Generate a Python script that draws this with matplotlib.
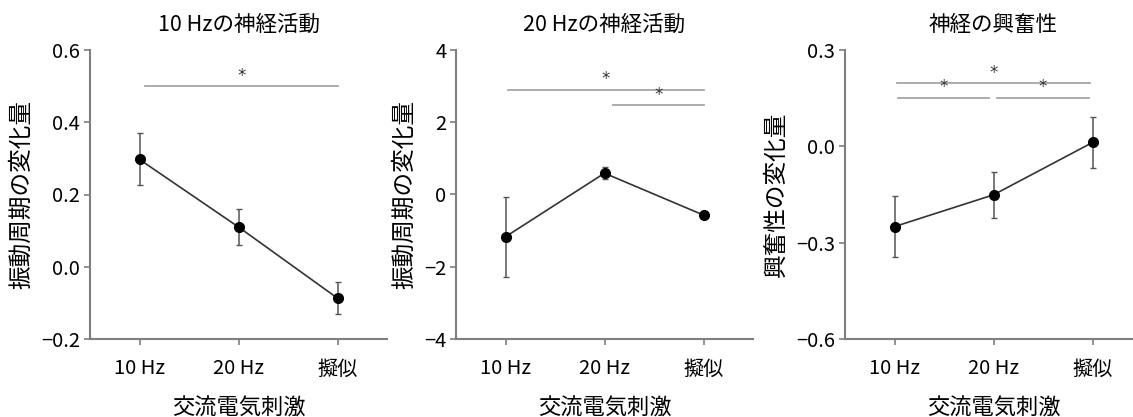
import matplotlib
matplotlib.use("Agg")
import matplotlib.pyplot as plt

plt.rcParams['font.family'] = ['Noto Sans CJK JP', 'DejaVu Sans']

categories = ["10 Hz", "20 Hz", "擬似"]
titles = ["10 Hzの神経活動", "20 Hzの神経活動", "神経の興奮性"]
ylabels = ["振動周期の変化量", "振動周期の変化量", "興奮性の変化量"]
xlabel = "交流電気刺激"

means_10hz = [0.297, 0.110, -0.087]
errs_10hz = [0.072, 0.049, 0.044]
means_20hz = [-1.17, 0.59, -0.57]
errs_20hz = [1.10, 0.16, 0.05]
means_exc = [-0.25, -0.151, 0.012]
errs_exc = [0.095, 0.072, 0.08]

yticks_10hz = [-0.2, 0.0, 0.2, 0.4, 0.6]
yticks_20hz = [-4, -2, 0, 2, 4]
yticks_exc = [-0.6, -0.3, 0.0, 0.3]

# significance bars: (x start, x end, y)
sig_10hz = [(0.06, 2.0, 0.5)]
sig_20hz = [(0.03, 2.0, 2.9), (1.09, 2.0, 2.48)]
sig_exc = [(0.03, 1.97, 0.196), (0.04, 0.95, 0.152), (1.04, 1.96, 0.152)]

panels = [
    (means_10hz, errs_10hz, yticks_10hz, sig_10hz, "{:.1f}"),
    (means_20hz, errs_20hz, yticks_20hz, sig_20hz, "{:.0f}"),
    (means_exc, errs_exc, yticks_exc, sig_exc, "{:.1f}"),
]

W, H = 1133, 417
fig = plt.figure(figsize=(W / 100, H / 100), dpi=100)
lefts = [90, 456, 845]
bottom = (H - 339) / H
height = 289 / H
width = 297 / W

gray = "#7f7f7f"
for i, (m, e, yt, sig, fmt) in enumerate(panels):
    ax = fig.add_axes([lefts[i] / W, bottom, width, height])
    x = list(range(len(categories)))
    ax.errorbar(x, m, yerr=e, color="#333333", lw=1.2, marker="o", ms=7,
                mfc="black", mec="black", ecolor="#555555", elinewidth=1.1,
                capsize=2.5, capthick=1.0)
    ax.set_xlim(-0.5, 2.5)
    ax.set_ylim(yt[0], yt[-1])
    ax.set_xticks(x)
    ax.set_xticklabels(categories)
    ax.set_yticks(yt)
    ax.set_yticklabels([fmt.format(v).replace("-", "\u2212") for v in yt])
    ax.tick_params(labelsize=14.5, color=gray, length=4, width=1.2, pad=3)
    ax.tick_params(axis="x", pad=10)
    for s in ["top", "right"]:
        ax.spines[s].set_visible(False)
    for s in ["left", "bottom"]:
        ax.spines[s].set_color(gray)
        ax.spines[s].set_linewidth(1.5)
    for x0, x1, y in sig:
        ax.plot([x0, x1], [y, y], color="#a6a6a6", lw=1.3, clip_on=False)
        ax.annotate("*", ((x0 + x1) / 2, y), xytext=(0, 1), textcoords="offset points",
                    ha="center", va="bottom", fontsize=12, color="#333333",
                    family="DejaVu Sans")
    ax.set_title(titles[i], fontsize=15.5, pad=14)
    ax.set_ylabel(ylabels[i], fontsize=17, labelpad=6)
    ax.set_xlabel(xlabel, fontsize=16, labelpad=12)

fig.savefig("out.png", dpi=100)
